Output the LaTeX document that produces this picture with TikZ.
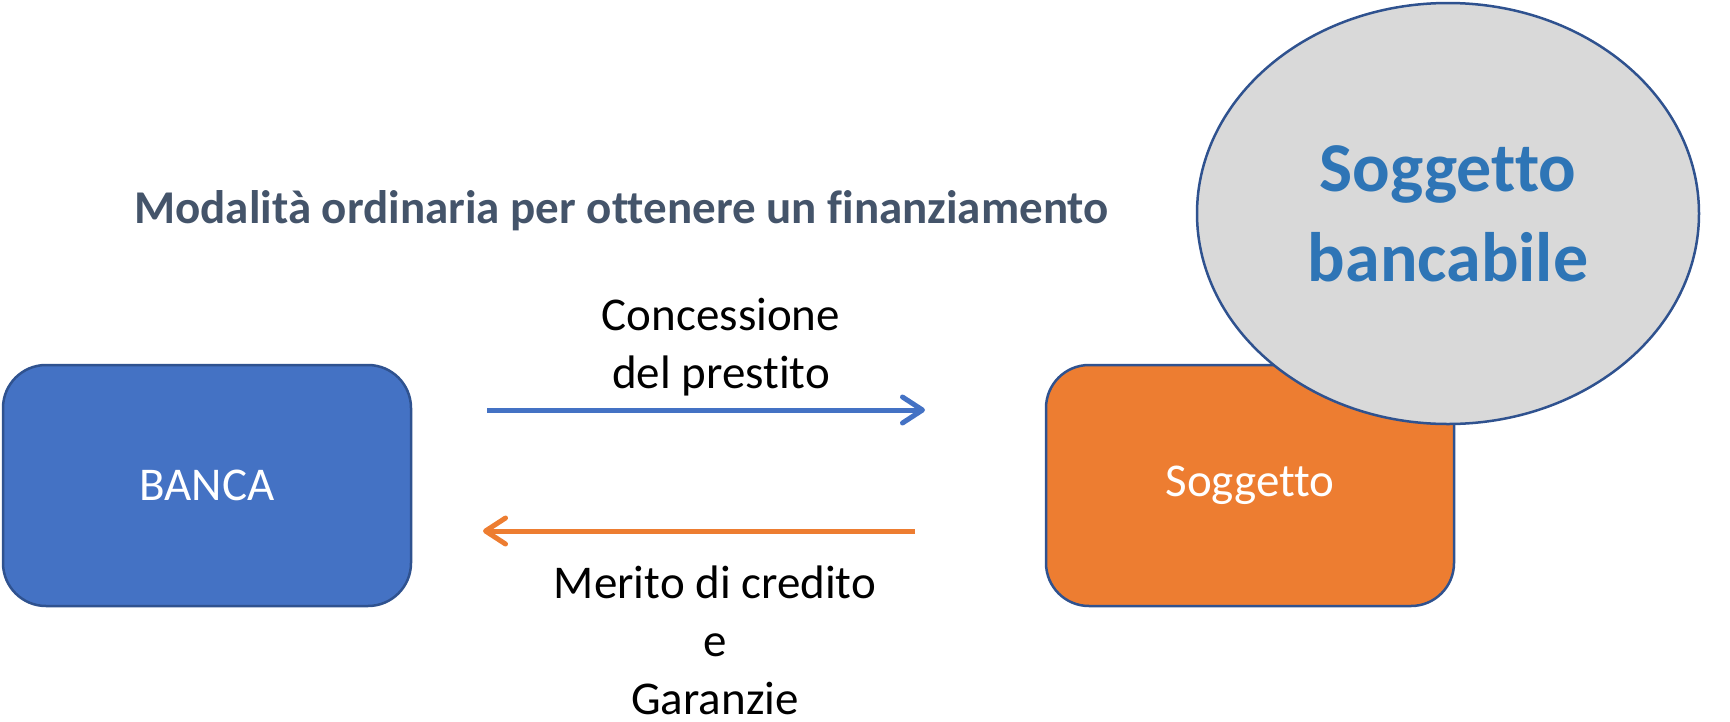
\documentclass[tikz,border=0pt]{standalone}
\usepackage{fontspec}
\setmainfont{Carlito}[Ligatures=NoCommon]
\usetikzlibrary{shapes.geometric,arrows.meta}
\definecolor{bluefill}{HTML}{4472C4}
\definecolor{orangefill}{HTML}{ED7D31}
\definecolor{edgeblue}{HTML}{2F528F}
\definecolor{greyfill}{HTML}{D9D9D9}
\definecolor{titlegrey}{HTML}{44546A}
\definecolor{ovaltext}{HTML}{2E75B6}
\begin{document}
\begin{tikzpicture}[x=1pt,y=-1pt,
  box/.style={draw=edgeblue, line width=2.5pt, rounded corners=43pt,
    minimum width=408pt, minimum height=241pt, inner sep=0pt,
    text=white, font=\fontsize{47}{56}\selectfont},
  oval/.style={ellipse, draw=edgeblue, line width=2.5pt, fill=greyfill,
    minimum width=502pt, minimum height=421pt, inner sep=0pt,
    text=ovaltext, align=center, font=\fontsize{70}{90}\selectfont\bfseries},
  lbl/.style={inner sep=0pt, align=center, text=black,
    font=\fontsize{47}{58}\selectfont},
  flow/.style={line width=5pt, -{Straight Barb[length=20pt,width=26pt,round]}}]
\useasboundingbox (0,0) rectangle (1730,721);

\node[box, fill=bluefill] (banca) at (207,485.5) {BANCA};
\node[box, fill=orangefill] (sogg) at (1250,485.5) {Soggetto};
\node[oval] (banc) at (1448,213.5) {Soggetto\\bancabile};

\node[inner sep=0pt, anchor=base, text=titlegrey,
  font=\fontsize{47}{56}\selectfont\bfseries] (title) at (621.5,223)
  {Modalità ordinaria per ottenere un finanziamento};

\coordinate (a1s) at (487,410);
\coordinate (a1e) at (925,410);
\coordinate (a2s) at (915,531);
\coordinate (a2e) at (483,531);
\draw[flow, draw=bluefill] (a1s) -- (a1e);
\draw[flow, draw=orangefill] (a2s) -- (a2e);

\node[lbl, anchor=base] (conc) at (721,388) {Concessione\\del prestito};
\node[lbl, anchor=base] (merito) at (715,714) {Merito di credito\\e\\Garanzie};
\end{tikzpicture}
\end{document}
